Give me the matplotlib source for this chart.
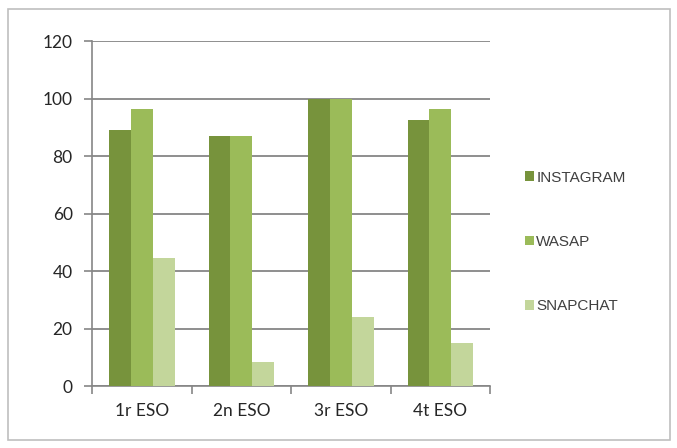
import matplotlib.pyplot as plt
import numpy as np
from matplotlib.patches import Rectangle

categories = ['1r ESO', '2n ESO', '3r ESO', '4t ESO']
instagram = [89, 87, 100, 92.5]
wasap = [96.5, 87, 100, 96.5]
snapchat = [44.5, 8.5, 24, 15]

series = [('INSTAGRAM', instagram, '#77933C'),
          ('WASAP', wasap, '#9BBB59'),
          ('SNAPCHAT', snapchat, '#C3D69B')]

plt.rcParams['font.family'] = ['Lato', 'DejaVu Sans']

fig = plt.figure(figsize=(6.77, 4.48), dpi=100)
ax = fig.add_axes([0.136, 0.138, 0.588, 0.770])

x = np.arange(len(categories))
w = 0.22
for i, (name, vals, col) in enumerate(series):
    ax.bar(x + (i - 1) * w, vals, width=w, color=col, label=name, zorder=3)

ax.set_xlim(-0.5, 3.5)
ax.set_ylim(0, 120)
ax.set_yticks(range(0, 121, 20))
ax.yaxis.grid(True, color='#868686', linewidth=1.3, zorder=0)

ax.set_xticks(x)
ax.set_xticklabels(categories)
ax.set_xticks(np.arange(-0.5, 4, 1), minor=True)
ax.tick_params(axis='x', which='major', length=0, pad=12, labelsize=12.5, colors='#262626')
ax.tick_params(axis='x', which='minor', length=6, color='#868686', width=1.2)
ax.tick_params(axis='y', length=6, color='#868686', width=1.2, labelsize=12.5, colors='#262626', pad=8)

for s in ['top', 'right']:
    ax.spines[s].set_visible(False)
for s in ['left', 'bottom']:
    ax.spines[s].set_color('#868686')
    ax.spines[s].set_linewidth(1.2)

leg = fig.legend(loc='center left', bbox_to_anchor=(0.755, 0.46), frameon=False,
                 handlelength=0.6, handleheight=0.6, handletextpad=0.15,
                 labelspacing=3.3, prop={'family': 'Liberation Sans', 'size': 11})
for t in leg.get_texts():
    t.set_color('#404040')

fig.patches.append(Rectangle((0.012, 0.018), 0.978, 0.962, transform=fig.transFigure,
                             fill=False, edgecolor='#BFBFBF', linewidth=1.2))

fig.savefig('out.png', dpi=100)
